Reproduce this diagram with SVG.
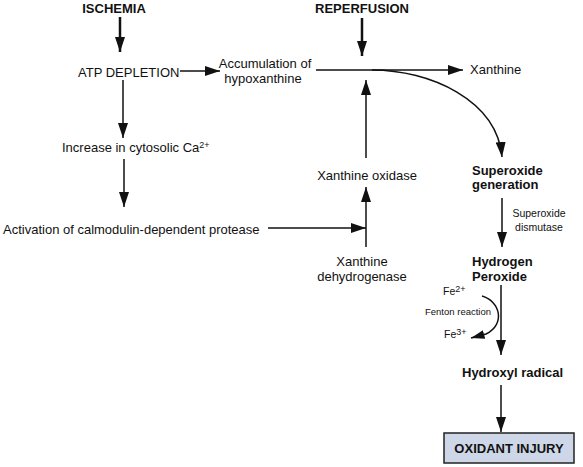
<svg xmlns="http://www.w3.org/2000/svg" width="583" height="467" viewBox="0 0 583 467">
<defs>
<marker id="ah" viewBox="0 0 15 10" refX="15" refY="5" markerWidth="15" markerHeight="10" markerUnits="userSpaceOnUse" orient="auto">
<path d="M0,0 L15,5 L0,10 z" fill="#111"/>
</marker>
<marker id="ahs" viewBox="0 0 15 10" refX="15" refY="5" markerWidth="14" markerHeight="9" markerUnits="userSpaceOnUse" orient="auto">
<path d="M0,0 L15,5 L0,10 z" fill="#111"/>
</marker>
<style>
text{font-family:"Liberation Sans",Arial,sans-serif;fill:#111;font-size:13px}
.b{font-weight:bold}
.s{font-size:10.5px}
.xs{font-size:9.5px}
.sup{font-size:9px}
.m{text-anchor:middle}
.c{fill:none;stroke:#111;stroke-width:1.5;marker-end:url(#ah)}
.t{stroke-width:2.5}
</style>
</defs>
<rect width="583" height="467" fill="#fff"/>
<g id="connectors">
<path class="c t" d="M120 17 L120 52"/>
<path class="c" d="M180 71 L220 71"/>
<path class="c" d="M123 80 L123 138"/>
<path class="c" d="M124 159 L124 207"/>
<path class="c" d="M268 228 L366 228"/>
<path class="c" d="M366 247 L366 187"/>
<path class="c" d="M366 158 L366 80"/>
<path class="c t" d="M362 18 L362 56"/>
<path class="c" d="M316 70 L463 70"/>
<path class="c" d="M372 70 C430 70 497 100 502 157"/>
<path class="c" d="M502 198 L502 247"/>
<path class="c" d="M501 285 L501 355"/>
<path fill="none" stroke="#111" stroke-width="1.5" marker-end="url(#ahs)" d="M482 296 C500 301 506 324 486 334 L471 338"/>
<path class="c" d="M501 385 L501 432"/>
</g>
<g id="ischemia"><text class="b m" x="114" y="13">ISCHEMIA</text></g>
<g id="reperfusion"><text class="b m" x="362" y="13">REPERFUSION</text></g>
<g id="atp"><text x="78" y="77">ATP DEPLETION</text></g>
<g id="accumulation"><text class="m" x="265" y="68">Accumulation of</text><text class="m" x="263" y="83">hypoxanthine</text></g>
<g id="xanthine"><text x="470" y="74">Xanthine</text></g>
<g id="calcium"><text x="62" y="152">Increase in cytosolic Ca<tspan class="sup" dy="-4">2+</tspan></text></g>
<g id="protease"><text x="3" y="234">Activation of calmodulin-dependent protease</text></g>
<g id="oxidase"><text class="m" x="367" y="180">Xanthine oxidase</text></g>
<g id="dehydrogenase"><text class="m" x="362" y="266">Xanthine</text><text class="m" x="362" y="281">dehydrogenase</text></g>
<g id="superoxide"><text class="b" x="472" y="175">Superoxide</text><text class="b" x="472" y="189">generation</text></g>
<g id="sod"><text class="s m" x="539" y="217">Superoxide</text><text class="s m" x="539" y="231">dismutase</text></g>
<g id="peroxide"><text class="b" x="472" y="266">Hydrogen</text><text class="b" x="472" y="281">Peroxide</text></g>
<g id="fenton"><text class="s" x="443" y="295">Fe<tspan class="sup" dy="-3">2+</tspan></text><text class="xs" x="425" y="315">Fenton reaction</text><text class="s" x="444" y="338">Fe<tspan class="sup" dy="-3">3+</tspan></text></g>
<g id="hydroxyl"><text class="b" x="462" y="377">Hydroxyl radical</text></g>
<g id="injury"><rect x="444" y="433" width="130" height="30" fill="#cdd7e8" stroke="#222" stroke-width="1.5"/><text class="b m" x="509" y="453">OXIDANT INJURY</text></g>
</svg>
